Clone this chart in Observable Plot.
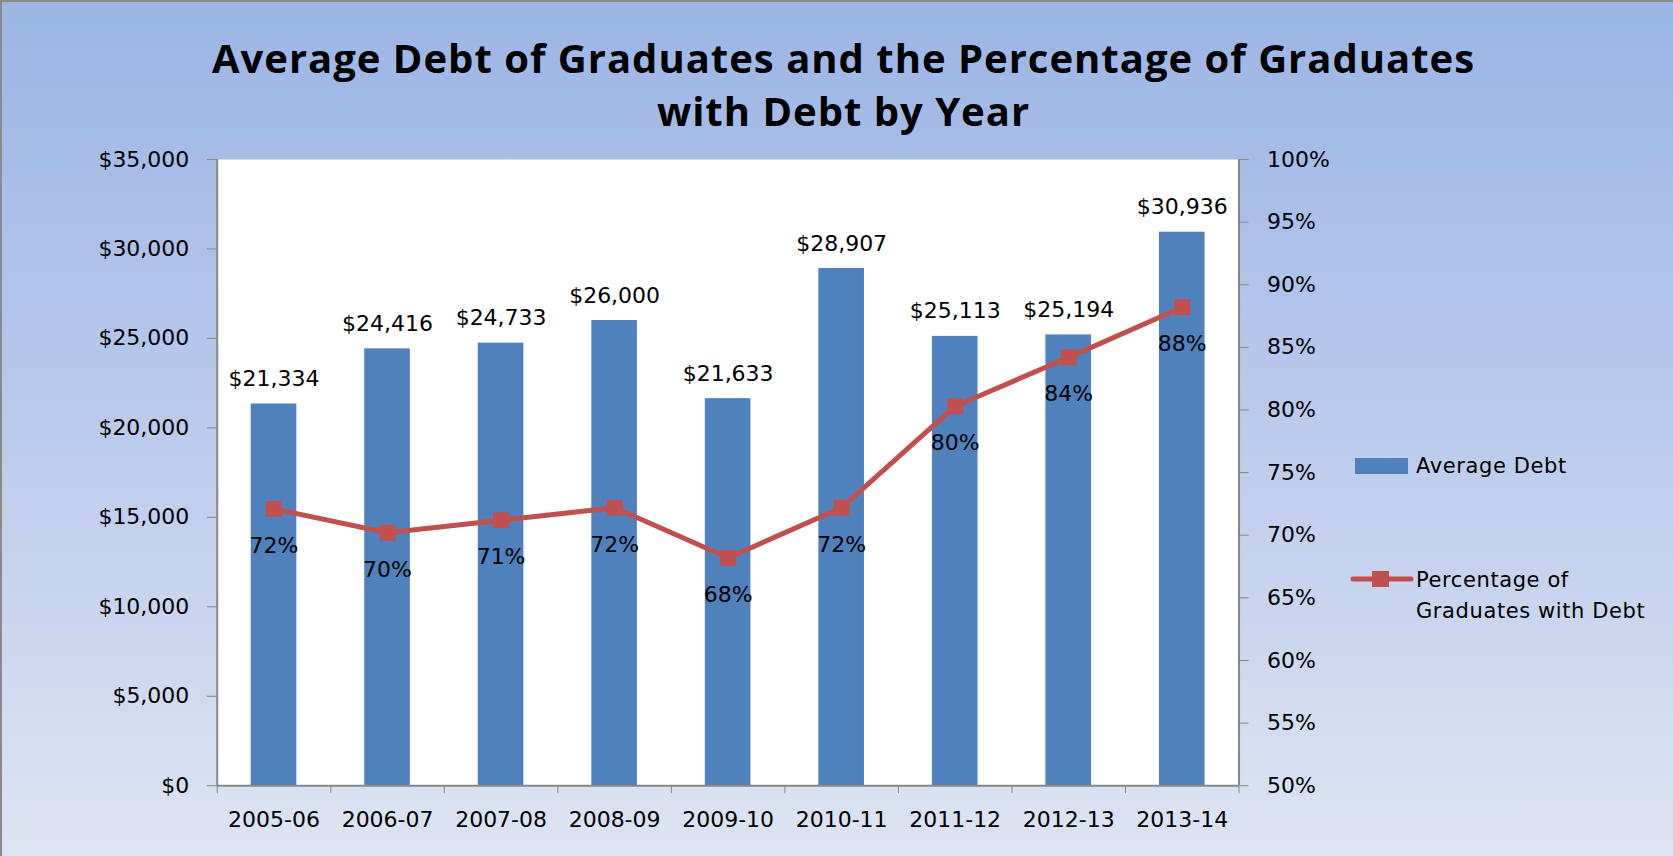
<!DOCTYPE html>
<html>
<head>
<meta charset="utf-8">
<script src="https://cdn.jsdelivr.net/npm/d3@7"></script>
<script src="https://cdn.jsdelivr.net/npm/@observablehq/plot@0.6"></script>
<style>
  html, body { margin: 0; padding: 0; }
  #chart {
    position: relative; width: 1673px; height: 856px; overflow: hidden;
    background: linear-gradient(to bottom, #9bb5e4 0%, #b4c6ea 40%, #dde4f3 100%);
    border-top: 2px solid #8a8a8a; border-left: 2px solid #8a8a8a; box-sizing: border-box;
    font-family: "DejaVu Sans", sans-serif;
  }
  #title {
    height: 138px; box-sizing: border-box; padding-top: 29px; padding-left: 12px;
    text-align: center; font-family: "Open Sans", sans-serif; font-weight: 700;
    font-size: 40px; letter-spacing: 1px; line-height: 53px; color: #000;
  }
  .leg { position: absolute; font-size: 21px; color: #000; letter-spacing: 0.6px; }
</style>
</head>
<body>
<div id="chart">
  <div id="title">Average Debt of Graduates and the Percentage of Graduates<br>with Debt by Year</div>
  <div id="plot"></div>
  <div id="legend"></div>
</div>
<script>
const years = ["2005-06","2006-07","2007-08","2008-09","2009-10","2010-11","2011-12","2012-13","2013-14"];
const avgDebt = [21334, 24416, 24733, 26000, 21633, 28907, 25113, 25194, 30936];
const pctWithDebt = [72.1, 70.2, 71.2, 72.2, 68.2, 72.2, 80.3, 84.2, 88.2];
const debtTicks = [0, 5000, 10000, 15000, 20000, 25000, 30000, 35000];
const pctTicks = [50, 55, 60, 65, 70, 75, 80, 85, 90, 95, 100];
const seriesNames = ["Average Debt", "Percentage of Graduates with Debt"];

const barColor = "#4f81bd";
const lineColor = "#c0504d";
const axisColor = "#868686";

const debtMax = 35000, pctMin = 50, pctMax = 100;
const pctToY = p => (p - pctMin) / (pctMax - pctMin) * debtMax;
const yToPct = y => Math.round(y / debtMax * (pctMax - pctMin) + pctMin);

const rows = years.map((year, i) => ({year, i, debt: avgDebt[i], pct: pctWithDebt[i]}));
const fmtMoney = d => "$" + d3.format(",")(d);

const chart = Plot.plot({
  width: 1673,
  height: 718,
  marginTop: 19,
  marginBottom: 72,
  marginLeft: 215,
  marginRight: 435,
  style: {background: "transparent", fontFamily: "DejaVu Sans, sans-serif", fontSize: "22px", color: "#000", overflow: "visible"},
  x: {type: "linear", domain: [0, years.length], label: null},
  y: {domain: [0, debtMax], label: null},
  marks: [
    Plot.frame({fill: "white", stroke: null}),
    Plot.rectY(rows, {x1: d => d.i, x2: d => d.i + 1, y1: 0, y2: "debt", insetLeft: 34, insetRight: 34, fill: barColor}),
    Plot.ruleX([0, years.length], {stroke: axisColor, strokeWidth: 2}),
    Plot.ruleY([0], {stroke: axisColor, strokeWidth: 2}),
    Plot.axisY(debtTicks, {anchor: "left", label: null, tickSize: 10, tickPadding: 18, tickFormat: fmtMoney, stroke: axisColor, fill: "#000"}),
    Plot.axisY(pctTicks.map(pctToY), {anchor: "right", label: null, tickSize: 9, tickPadding: 19, tickFormat: d => yToPct(d) + "%", stroke: axisColor, fill: "#000"}),
    Plot.axisX(d3.range(years.length + 1), {anchor: "bottom", label: null, tickSize: 8, tickFormat: () => "", stroke: axisColor}),
    Plot.axisX(years.map((y, i) => i + 0.5), {anchor: "bottom", label: null, tickSize: 0, tickPadding: 26, tickFormat: d => years[Math.floor(d)], fill: "#000"}),
    Plot.line(rows, {x: d => d.i + 0.5, y: d => pctToY(d.pct), stroke: lineColor, strokeWidth: 5}),
    Plot.dot(rows, {x: d => d.i + 0.5, y: d => pctToY(d.pct), symbol: "square", r: 9, fill: lineColor, stroke: null}),
    Plot.text(rows, {x: d => d.i + 0.5, y: "debt", text: d => fmtMoney(d.debt), dy: -25, fill: "#000"}),
    Plot.text(rows, {x: d => d.i + 0.5, y: d => pctToY(d.pct), text: d => Math.round(d.pct) + "%", dy: 37, fill: "#000"})
  ]
});
document.getElementById("plot").appendChild(chart);

// legend
const leg = document.getElementById("legend");
leg.innerHTML = `
  <div style="position:absolute;left:1353px;top:456px;width:53px;height:16px;background:${barColor}"></div>
  <div class="leg" style="left:1414px;top:451px;line-height:26px;">${seriesNames[0]}</div>
  <svg style="position:absolute;left:1348px;top:566px" width="64" height="22">
    <line x1="3" y1="11" x2="61" y2="11" stroke="${lineColor}" stroke-width="5" stroke-linecap="round"/>
    <rect x="22" y="3" width="17" height="16" fill="${lineColor}"/>
  </svg>
  <div class="leg" style="left:1414px;top:563px;line-height:31px;width:260px;">Percentage of<br>Graduates with Debt</div>
`;
</script>
</body>
</html>
